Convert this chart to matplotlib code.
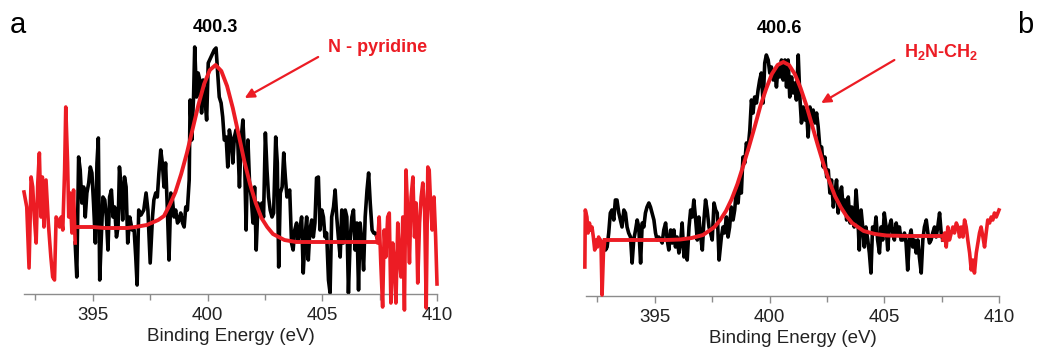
import matplotlib
matplotlib.use("Agg")
from matplotlib import pyplot as plt

plt.rcParams['font.family'] = ['Liberation Sans', 'DejaVu Sans']
plt.rcParams['mathtext.fontset'] = 'custom'
plt.rcParams['mathtext.bf'] = 'Liberation Sans:bold'
plt.rcParams['mathtext.rm'] = 'Liberation Sans'
plt.rcParams['mathtext.default'] = 'bf'

RED = '#ec1c24'

# ---- panel a : N 1s, N-pyridine ----
a_left_e = [392.00, 392.12, 392.22, 392.31, 392.38, 392.45, 392.53, 392.60, 392.67, 392.74,
            392.80, 392.87, 392.96, 393.06, 393.17, 393.25, 393.33, 393.40, 393.47, 393.55,
            393.62, 393.69, 393.77, 393.82, 393.90, 393.95, 394.01, 394.09, 394.16, 394.23]
a_left_i = [102, 87, 26, 117, 107, 77, 51, 111, 141, 77,
            117, 67, 114, 71, 37, 17, 14, 77, 74, 67,
            77, 64, 124, 187, 131, 77, 101, 61, 104, 51]

a_data_e = [394.23, 394.30, 394.38, 394.45, 394.52, 394.60, 394.67, 394.74, 394.82, 394.89,
            394.96, 395.03, 395.11, 395.18, 395.24, 395.30, 395.37, 395.44, 395.52, 395.59,
            395.66, 395.73, 395.81, 395.88, 395.95, 396.03, 396.10, 396.16, 396.23, 396.30,
            396.38, 396.45, 396.52, 396.61, 396.71, 396.80, 396.87, 396.93, 397.00, 397.10,
            397.22, 397.32, 397.40, 397.50, 397.60, 397.66, 397.74, 397.81, 397.88, 397.96,
            398.03, 398.10, 398.17, 398.25, 398.32, 398.40, 398.47, 398.54, 398.61, 398.69,
            398.76, 398.83, 398.91, 398.98, 399.05, 399.12, 399.20, 399.24, 399.31, 399.39,
            399.44, 399.52, 399.59, 399.66, 399.74, 399.81, 399.88, 399.96, 400.03, 400.15,
            400.29, 400.37, 400.44, 400.51, 400.59, 400.66, 400.73, 400.81, 400.88, 400.95,
            401.03, 401.10, 401.17, 401.24, 401.32, 401.39, 401.46, 401.54, 401.61, 401.68,
            401.76, 401.83, 401.90, 401.98, 402.05, 402.12, 402.20, 402.27, 402.37, 402.44,
            402.52, 402.59, 402.66, 402.73, 402.81, 402.88, 402.97, 403.04, 403.10, 403.17,
            403.25, 403.32, 403.39, 403.46, 403.58, 403.66, 403.73, 403.80, 403.88, 403.95,
            404.02, 404.10, 404.17, 404.25, 404.32, 404.39, 404.46, 404.54, 404.61, 404.68,
            404.75, 404.83, 404.90, 404.98, 405.05, 405.12, 405.19, 405.27, 405.34, 405.41,
            405.49, 405.56, 405.63, 405.70, 405.78, 405.85, 405.92, 406.00, 406.07, 406.14,
            406.22, 406.29, 406.36, 406.43, 406.51, 406.58, 406.65, 406.73, 406.80, 406.87,
            406.95, 407.02, 407.09, 407.17, 407.24, 407.31, 407.38]
a_data_i = [51, 17, 137, 124, 91, 107, 77, 101, 111, 127,
            121, 91, 51, 131, 156, 14, 57, 97, 94, 77,
            44, 97, 104, 77, 87, 57, 67, 127, 107, 74,
            117, 107, 51, 77, 64, 64, 37, 9, 84, 79,
            84, 101, 84, 31, 77, 94, 101, 97, 121, 144,
            131, 107, 131, 84, 34, 101, 94, 77, 84, 71,
            74, 81, 71, 67, 87, 84, 114, 194, 154, 197,
            247, 197, 221, 214, 181, 214, 197, 174, 231, 237,
            244, 246, 221, 197, 191, 177, 154, 157, 127, 164,
            154, 131, 157, 164, 151, 107, 154, 174, 141, 64,
            154, 111, 97, 71, 107, 44, 91, 84, 91, 77,
            161, 124, 97, 84, 77, 81, 157, 131, 27, 101,
            107, 141, 117, 97, 104, 51, 44, 64, 71, 54,
            64, 77, 21, 57, 77, 34, 64, 74, 57, 71,
            116, 117, 64, 84, 77, 57, 61, 14, 1, 77,
            87, 104, 77, 57, 37, 84, 51, 84, 77, 1,
            57, 77, 84, 44, 71, 4, 71, 51, 24, 77,
            104, 121, 91, 64, 61, 61, 57]

a_right_e = [407.38, 407.41, 407.48, 407.55, 407.63, 407.70, 407.77, 407.85, 407.92, 407.99,
             408.07, 408.14, 408.21, 408.29, 408.36, 408.43, 408.51, 408.58, 408.65, 408.73,
             408.80, 408.87, 408.95, 409.02, 409.09, 409.16, 409.24, 409.31, 409.38, 409.46,
             409.53, 409.60, 409.66, 409.72, 409.79, 409.87, 409.94, 410.00]
a_right_i = [57, 51, 77, 31, -13, 64, 37, 77, 81, -9,
             51, 31, -9, 71, 37, 17, 77, -16, 124, 77,
             31, 97, 117, 57, 91, 11, 71, 97, 111, 84,
             -14, 127, 124, 91, 64, 97, 57, 10]

a_fit_e = [394.25, 395.0, 395.5, 396.0, 396.5, 396.85, 397.35, 397.85, 398.1, 398.35,
           398.6, 398.85, 399.1, 399.35, 399.6, 399.85, 400.1, 400.35, 400.6, 400.85,
           401.1, 401.35, 401.6, 401.85, 402.1, 402.35, 402.6, 402.85, 403.1, 403.35,
           403.85, 404.5, 405.5, 406.5, 407.41]
a_fit_i = [67, 67, 66, 66, 66, 67, 69, 74, 78, 89,
           102, 120, 141, 165, 189, 210, 224, 229, 223, 208,
           186, 160, 133, 110, 91, 76, 67, 60, 57, 54,
           52, 52, 52, 52, 52]

# ---- panel b : N 1s, H2N-CH2 ----
b_left_e = [391.95, 391.97, 392.04, 392.09, 392.15, 392.20, 392.26, 392.32, 392.38, 392.44,
            392.50, 392.55, 392.61, 392.65, 392.70, 392.76, 392.82]
b_left_i = [29, 86, 79, 63, 73, 66, 69, 59, 46, 56,
            49, 59, 53, 56, 1, 43, 56]

b_data_e = [392.82, 392.85, 392.92, 392.99, 393.06, 393.13, 393.21, 393.28, 393.35, 393.43,
            393.50, 393.57, 393.65, 393.72, 393.79, 393.86, 393.94, 394.01, 394.08, 394.16,
            394.23, 394.30, 394.38, 394.45, 394.52, 394.59, 394.66, 394.74, 394.81, 394.88,
            394.96, 395.03, 395.10, 395.17, 395.25, 395.32, 395.39, 395.47, 395.54, 395.61,
            395.69, 395.76, 395.83, 395.90, 395.97, 396.05, 396.12, 396.19, 396.27, 396.34,
            396.41, 396.49, 396.56, 396.63, 396.70, 396.78, 396.85, 396.92, 397.00, 397.07,
            397.14, 397.21, 397.28, 397.36, 397.43, 397.50, 397.58, 397.65, 397.72, 397.80,
            397.90, 397.97, 398.04, 398.12, 398.19, 398.26, 398.33, 398.41, 398.48, 398.55,
            398.63, 398.70, 398.77, 398.84, 398.92, 398.99, 399.06, 399.14, 399.21, 399.28,
            399.35, 399.43, 399.50, 399.57, 399.64, 399.72, 399.79, 399.86, 399.94, 400.01,
            400.08, 400.16, 400.23, 400.30, 400.37, 400.45, 400.52, 400.59, 400.67, 400.74,
            400.81, 400.88, 400.96, 401.03, 401.10, 401.17, 401.25, 401.32, 401.39, 401.47,
            401.54, 401.61, 401.68, 401.76, 401.83, 401.90, 401.98, 402.05, 402.12, 402.20,
            402.27, 402.34, 402.41, 402.49, 402.56, 402.63, 402.70, 402.78, 402.85, 402.92,
            402.99, 403.07, 403.14, 403.21, 403.29, 403.36, 403.43, 403.51, 403.58, 403.69,
            403.77, 403.84, 403.91, 403.99, 404.06, 404.13, 404.20, 404.28, 404.35, 404.42,
            404.49, 404.57, 404.64, 404.71, 404.79, 404.86, 404.93, 405.00, 405.08, 405.15,
            405.22, 405.30, 405.37, 405.44, 405.52, 405.59, 405.66, 405.73, 405.80, 405.88,
            405.95, 406.02, 406.10, 406.17, 406.24, 406.31, 406.39, 406.46, 406.53, 406.61,
            406.68, 406.75, 406.83, 406.90, 406.97, 407.04, 407.11, 407.19, 407.26, 407.33,
            407.41, 407.48, 407.55]
b_data_i = [56, 46, 49, 63, 83, 86, 76, 96, 96, 83,
            76, 69, 86, 83, 69, 63, 59, 33, 56, 66,
            76, 69, 33, 73, 69, 83, 89, 93, 89, 83,
            76, 63, 56, 59, 56, 53, 66, 73, 56, 46,
            66, 53, 66, 49, 59, 43, 53, 73, 39, 56,
            36, 69, 86, 79, 96, 76, 56, 79, 59, 46,
            76, 96, 86, 69, 63, 56, 93, 86, 83, 36,
            59, 69, 63, 79, 59, 69, 89, 76, 86, 106,
            93, 116, 103, 139, 133, 153, 146, 166, 196, 183,
            199, 193, 206, 216, 223, 193, 233, 241, 236, 223,
            229, 216, 226, 209, 229, 219, 236, 216, 236, 209,
            236, 199, 219, 203, 213, 196, 241, 199, 173, 189,
            176, 186, 159, 189, 176, 186, 173, 183, 169, 146,
            149, 129, 139, 119, 126, 103, 116, 89, 103, 116,
            83, 103, 109, 86, 96, 76, 99, 73, 89, 69,
            106, 83, 46, 86, 69, 49, 69, 56, 43, 23,
            69, 63, 79, 56, 43, 69, 56, 83, 69, 46,
            69, 76, 63, 56, 73, 63, 69, 56, 56, 63,
            53, 26, 59, 66, 49, 56, 43, 56, 39, 23,
            56, 69, 76, 63, 53, 56, 63, 69, 59, 69,
            83, 63, 56]

b_right_e = [407.55, 407.63, 407.70, 407.77, 407.84, 407.92, 407.99, 408.06, 408.14, 408.21,
             408.28, 408.35, 408.43, 408.50, 408.57, 408.64, 408.72, 408.79, 408.86, 408.93,
             409.01, 409.08, 409.15, 409.22, 409.30, 409.37, 409.44, 409.51, 409.59, 409.66,
             409.73, 409.80, 409.88, 409.95, 410.00]
b_right_i = [56, 63, 49, 69, 56, 63, 69, 63, 73, 69,
             59, 69, 59, 76, 69, 56, 43, 26, 36, 23,
             43, 53, 63, 69, 59, 49, 63, 76, 73, 79,
             76, 83, 79, 83, 86]

b_fit_e = [392.82, 393.5, 394.5, 395.5, 396.1, 396.6, 397.1, 397.6, 397.85, 398.1,
           398.35, 398.6, 398.85, 399.1, 399.35, 399.6, 399.85, 400.1, 400.35, 400.6,
           400.85, 401.1, 401.35, 401.6, 401.85, 402.1, 402.35, 402.6, 402.85, 403.1,
           403.35, 403.6, 404.1, 404.6, 405.1, 406.0, 407.0, 407.55]
b_fit_i = [56, 56, 56, 56, 56.5, 58, 61, 69, 76, 85,
           97, 112, 130, 149, 169, 190, 207, 222, 231, 234,
           231, 222, 208, 191, 171, 151, 132, 115, 100, 89,
           80, 73, 65, 62, 60.5, 60, 60, 60]

x_ticks = [395, 400, 405, 410]
x_minor = [392.5, 397.5, 402.5, 407.5]


def style_axis(ax, top):
    ax.set_xlim(392, 410)
    ax.set_ylim(0, top)
    for side in ['left', 'right', 'top']:
        ax.spines[side].set_visible(False)
    ax.spines['bottom'].set_color('#8c8c8c')
    ax.spines['bottom'].set_linewidth(1.0)
    ax.set_yticks([])
    ax.set_xticks(x_ticks)
    ax.set_xticks(x_minor, minor=True)
    ax.tick_params(axis='x', which='major', length=5, width=1, color='#8c8c8c',
                   labelsize=13.5, labelcolor='#222222', pad=4)
    ax.tick_params(axis='x', which='minor', length=4, width=1, color='#8c8c8c')
    ax.set_xlabel('Binding Energy (eV)', fontsize=13.5, color='#222222', labelpad=3)
    ax.patch.set_alpha(0)


def draw_panel(ax, left, data, right, fit):
    ax.plot(data[0], data[1], color='black', lw=2.6, clip_on=False, zorder=2)
    ax.plot(left[0], left[1], color=RED, lw=2.6, clip_on=False, zorder=3)
    ax.plot(right[0], right[1], color=RED, lw=2.6, clip_on=False, zorder=3)
    ax.plot(fit[0], fit[1], color=RED, lw=2.8, clip_on=False, zorder=4,
            solid_joinstyle='round')


fig = plt.figure(figsize=(10.38, 3.54), dpi=100)

ax_a = fig.add_axes([24 / 1038, 60 / 354, 413 / 1038, 274 / 354])
style_axis(ax_a, 274)
draw_panel(ax_a, (a_left_e, a_left_i), (a_data_e, a_data_i),
           (a_right_e, a_right_i), (a_fit_e, a_fit_i))
ax_a.text(400.34, 262, '400.3', ha='center', va='baseline', fontsize=13,
          fontweight='bold', color='black')
ax_a.text(405.24, 242, 'N - pyridine', ha='left', va='baseline', fontsize=13,
          fontweight='bold', color=RED)
ax_a.annotate('', xy=(401.62, 196), xytext=(404.82, 237),
              arrowprops=dict(arrowstyle='-|>', color=RED, lw=1.6, mutation_scale=14,
                              shrinkA=0, shrinkB=0))

ax_b = fig.add_axes([586 / 1038, 58 / 354, 413 / 1038, 276 / 354])
style_axis(ax_b, 276)
draw_panel(ax_b, (b_left_e, b_left_i), (b_data_e, b_data_i),
           (b_right_e, b_right_i), (b_fit_e, b_fit_i))
ax_b.text(400.42, 263, '400.6', ha='center', va='baseline', fontsize=13,
          fontweight='bold', color='black')
ax_b.text(405.88, 239, 'H$_2$N-CH$_2$', ha='left', va='baseline', fontsize=13,
          fontweight='bold', color=RED)
ax_b.annotate('', xy=(402.25, 193), xytext=(405.44, 236),
              arrowprops=dict(arrowstyle='-|>', color=RED, lw=1.6, mutation_scale=14,
                              shrinkA=0, shrinkB=0))

fig.text(10 / 1038, 1 - 33 / 354, 'a', fontsize=21, ha='left', va='baseline')
fig.text(1017 / 1038, 1 - 33 / 354, 'b', fontsize=21, ha='left', va='baseline')

fig.savefig('out.png', dpi=100)
